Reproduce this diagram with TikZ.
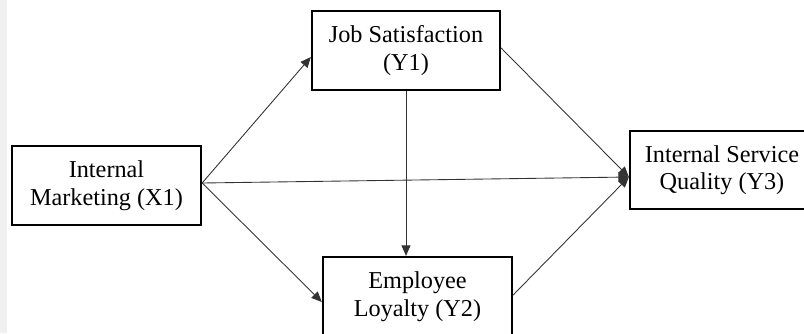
\documentclass[tikz,border=0pt]{standalone}
\usepackage{fontspec}
\setmainfont{Liberation Serif}
\usetikzlibrary{arrows.meta}
\tikzset{
  varbox/.style={draw, line width=1.3pt, minimum width=3.78cm, minimum height=1.58cm, align=center, font=\fontsize{13.8}{15.6}\selectfont, inner sep=0pt},
  path/.style={-{Triangle[length=2.1mm,width=1.8mm]}, line width=0.5pt, draw=black!80}
}
\begin{document}
\begin{tikzpicture}
\useasboundingbox (0,0) rectangle (16.08,-6.66);
\clip (0,0) rectangle (16.08,-6.66);
\fill[black!6] (0,0) rectangle (0.14,-6.66);
\node[varbox] (im) at (2.13,-3.71) {Internal\\Marketing (X1)};
\node[varbox, minimum width=3.76cm] (js) at (8.12,-1.01) {Job Satisfaction\\(Y1)};
\node[varbox] (el) at (8.35,-5.93) {Employee\\Loyalty (Y2)};
\node[varbox, minimum width=3.68cm, minimum height=1.56cm] (isq) at (14.44,-3.40) {Internal Service\\Quality (Y3)};
\coordinate (out1) at ([yshift=0.05cm]im.east);
\coordinate (in3) at ([yshift=-0.14cm]isq.west);
\draw[path] (out1) -- ([yshift=-0.13cm]js.west);
\draw[path] (out1) -- ([yshift=-0.11cm]el.west);
\draw[path] (out1) -- (in3);
\draw[path] (js.south) -- (js.south |- el.north);
\draw[path] ([yshift=0.05cm]js.east) -- (in3);
\draw[path] ([yshift=0.03cm]el.east) -- (in3);
\end{tikzpicture}
\end{document}
